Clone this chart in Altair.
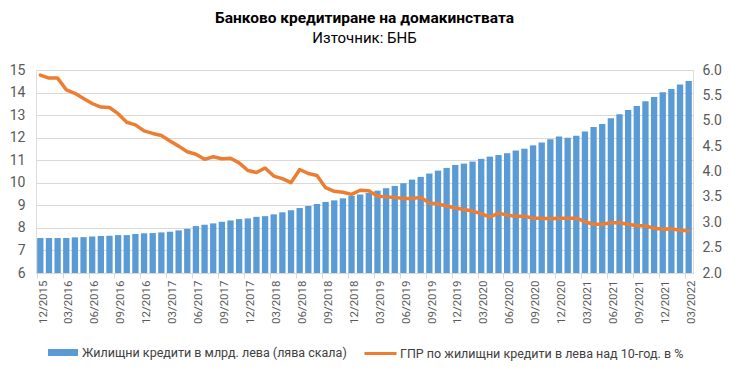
import altair as alt
import pandas as pd

# Categories: monthly, 12/2015 .. 03/2022
months = (["12/2015"]
          + [f"{m:02d}/{y}" for y in range(2016, 2022) for m in range(1, 13)]
          + [f"{m:02d}/2022" for m in range(1, 4)])

# Housing loans, bn BGN (left scale)
loans = [7.55, 7.55, 7.55, 7.55, 7.58, 7.59, 7.62, 7.64, 7.65, 7.68,
         7.68, 7.73, 7.76, 7.77, 7.80, 7.83, 7.89, 7.96, 8.08, 8.14,
         8.20, 8.27, 8.33, 8.39, 8.42, 8.49, 8.52, 8.60, 8.69, 8.78,
         8.88, 8.97, 9.06, 9.15, 9.22, 9.31, 9.42, 9.48, 9.55, 9.65,
         9.76, 9.86, 9.98, 10.14, 10.26, 10.41, 10.54, 10.66, 10.79, 10.85,
         10.94, 11.06, 11.16, 11.23, 11.31, 11.43, 11.51, 11.66, 11.79, 11.93,
         12.05, 12.00, 12.09, 12.27, 12.47, 12.61, 12.86, 13.04, 13.23, 13.40,
         13.61, 13.80, 14.01, 14.16, 14.36, 14.51]

# APR on BGN housing loans over 10 years, % (right scale)
rate = [5.90, 5.84, 5.84, 5.61, 5.54, 5.44, 5.34, 5.27, 5.26, 5.14,
        4.97, 4.92, 4.80, 4.75, 4.71, 4.60, 4.50, 4.39, 4.34, 4.24,
        4.29, 4.25, 4.26, 4.17, 4.02, 3.98, 4.07, 3.91, 3.86, 3.78,
        4.04, 3.96, 3.92, 3.68, 3.61, 3.59, 3.55, 3.63, 3.62, 3.51,
        3.50, 3.49, 3.47, 3.47, 3.49, 3.38, 3.36, 3.32, 3.28, 3.25,
        3.22, 3.17, 3.10, 3.18, 3.14, 3.12, 3.12, 3.08, 3.08, 3.07,
        3.08, 3.08, 3.08, 3.01, 2.96, 2.96, 2.99, 2.99, 2.96, 2.93,
        2.93, 2.88, 2.86, 2.87, 2.84, 2.83]

tick_labels = months[::3]
left_ticks = [6, 7, 8, 9, 10, 11, 12, 13, 14, 15]
right_ticks = [2.0, 2.5, 3.0, 3.5, 4.0, 4.5, 5.0, 5.5, 6.0]

BAR_NAME = "Жилищни кредити в млрд. лева (лява скала)"
LINE_NAME = "ГПР по жилищни кредити в лева над 10-год. в %"
TITLE = "Банково кредитиране на домакинствата"
SUBTITLE = "Източник: БНБ"

BLUE = "#5B9BD5"
ORANGE = "#ED7D31"
GRID = "#D9D9D9"
LABEL = "#595959"
FONT = "Roboto"

df = pd.DataFrame({"month": months, "loans": loans, "rate": rate})
df["bar_series"] = BAR_NAME
df["line_series"] = LINE_NAME

x_enc = alt.X(
    "month:N", sort=months,
    scale=alt.Scale(paddingInner=0.27, paddingOuter=0.135),
    axis=alt.Axis(values=tick_labels, labelAngle=-90, title=None,
                  bandPosition=0, labelOffset=3.2, tickSize=5,
                  tickColor=GRID, domainColor=GRID, labelFontSize=11.5,
                  labelColor=LABEL, labelPadding=2, grid=False,
                  labelFont=FONT),
)

bars = alt.Chart(df).mark_bar(color=BLUE).encode(
    x=x_enc,
    y=alt.Y("loans:Q", scale=alt.Scale(domain=[6, 15], zero=False, nice=False),
            axis=alt.Axis(values=left_ticks, title=None, grid=True,
                          gridColor=GRID, domain=False, ticks=False,
                          labelPadding=11, labelFontSize=14,
                          labelColor=LABEL, labelFont=FONT)),
    y2=alt.datum(6),
    color=alt.Color("bar_series:N", scale=alt.Scale(range=[BLUE]),
                    legend=alt.Legend(orient="none", legendX=19.5, legendY=275,
                                      title=None, padding=0,
                                      symbolType="M-2,-0.47H2V0.47H-2Z",
                                      symbolSize=225, symbolOpacity=1,
                                      symbolStrokeWidth=0,
                                      labelOffset=11.5, labelFontSize=12.5,
                                      labelColor="#404040", labelFont=FONT,
                                      labelLimit=400)),
)

line = alt.Chart(df).mark_line(strokeWidth=3.5, strokeCap="round",
                               strokeJoin="round").encode(
    x=x_enc,
    y=alt.Y("rate:Q", scale=alt.Scale(domain=[2, 6], zero=False, nice=False),
            axis=alt.Axis(orient="right", values=right_ticks, format=".1f",
                          title=None, grid=False, domain=False, ticks=False,
                          labelPadding=9, labelFontSize=14,
                          labelColor=LABEL, labelFont=FONT)),
    stroke=alt.Stroke("line_series:N", scale=alt.Scale(range=[ORANGE]),
                      legend=alt.Legend(orient="none", legendX=335, legendY=274,
                                        title=None, padding=0,
                                        symbolType="M-2,0H2",
                                        symbolSize=256, symbolStrokeWidth=3,
                                        labelOffset=10, labelFontSize=12.5,
                                        labelColor="#404040", labelFont=FONT,
                                        labelLimit=400)),
)

chart = alt.layer(bars, line).resolve_scale(
    y="independent"
).properties(
    width=657, height=203,
    padding={"left": 1, "right": 0, "top": 2, "bottom": 2},
    title=alt.TitleParams(text=TITLE, subtitle=SUBTITLE, anchor="middle",
                          fontSize=15.5, fontWeight="bold", color="black",
                          subtitleFontSize=15, subtitleColor="black",
                          subtitlePadding=5, offset=17, font=FONT,
                          subtitleFont=FONT),
).configure_view(stroke=None).configure(font=FONT)

chart.save("out.html", embed_options={"renderer": "svg", "actions": False})
